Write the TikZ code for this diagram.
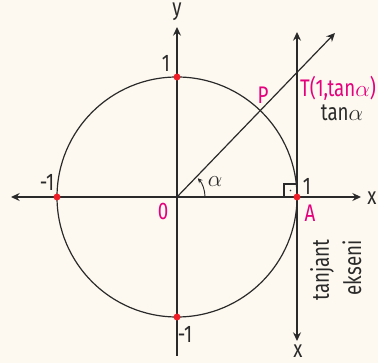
\documentclass[tikz,border=0pt]{standalone}
\usepackage{fontspec}
\setmainfont{Fira Sans}[FakeStretch=0.78]
\usetikzlibrary{arrows.meta}
\definecolor{bg}{HTML}{FDF9F0}
\definecolor{mag}{HTML}{E5007D}
\definecolor{dotred}{HTML}{EE1C25}
\definecolor{ink}{HTML}{2A2A2A}
\tikzset{axtip/.tip={Stealth[length=6.5pt,width=6pt,inset=2.2pt]}}
\begin{document}
\begin{tikzpicture}[x=0.75pt,y=0.75pt,
  axisline/.style={draw=ink, line width=1pt},
  lbl/.style={font=\fontsize{18}{18}\selectfont, text=ink, inner sep=0pt},
  mlbl/.style={lbl, text=mag},
  reddot/.style={circle, fill=dotred, inner sep=0pt, minimum size=5.2pt}]
\fill[bg] (0,0) rectangle (378,363);
\useasboundingbox (0,0) rectangle (378,363);
% key points
\coordinate (O) at (177,166);
\coordinate (xl) at (11,166);
\coordinate (xr) at (361,166);
\coordinate (yb) at (177,7);
\coordinate (yt) at (177,336);
\coordinate (tb) at (297,22);
\coordinate (tt) at (297,331);
\coordinate (re) at (335,330);
\coordinate (A) at (297,166);
\coordinate (B) at (177,286);
\coordinate (C) at (57,166);
\coordinate (D) at (177,46);
% circle
\draw[ink, line width=0.9pt] (O) circle[radius=120];
% axes
\draw[axisline, axtip-axtip] (xl) -- (xr);
\draw[axisline, -axtip] (yb) -- (yt);
\draw[axisline, axtip-axtip] (tb) -- (tt);
\draw[axisline, line width=0.9pt, -axtip] (O) -- (re);
% angle arc
\draw[ink, line width=0.7pt, -{Stealth[length=3.5pt,width=3.5pt]}] ([shift={(0:28)}]O) arc[start angle=0, end angle=42, radius=28];
% right angle mark
\draw[ink, line width=0.8pt] (284,166) -- (284,179) -- (297,179);
\fill[ink] (290.5,172.5) circle[radius=0.9];
% dots
\node[reddot] (dA) at (A) {};
\node[reddot] (dB) at (B) {};
\node[reddot] (dC) at (C) {};
\node[reddot] (dD) at (D) {};
% labels
\node[lbl] (ly) at (177,351) {y};
\node[lbl] (lx) at (372,165) {x};
\node[lbl] (lxb) at (298,12) {x};
\node[lbl] (l1t) at (166,300) {1};
\node[lbl] (lm1l) at (47,181) {-1};
\node[lbl] (lm1b) at (185,29) {-1};
\node[lbl] (l1r) at (307,177) {1};
\node[mlbl] (lO) at (163,151) {0};
\node[mlbl] (lA) at (310,150) {A};
\node[mlbl] (lP) at (263,268) {P};
\node[mlbl] (lT) at (338,275) {T(1,tan$\alpha$)};
\node[lbl] (ltan) at (342,250) {tan$\alpha$};
\node[lbl] (lal) at (215,181) {$\alpha$};
\node[lbl, rotate=90] (ltj) at (322,93) {tanjant};
\node[lbl, rotate=90] (lek) at (352,95) {ekseni};
\end{tikzpicture}
\end{document}
